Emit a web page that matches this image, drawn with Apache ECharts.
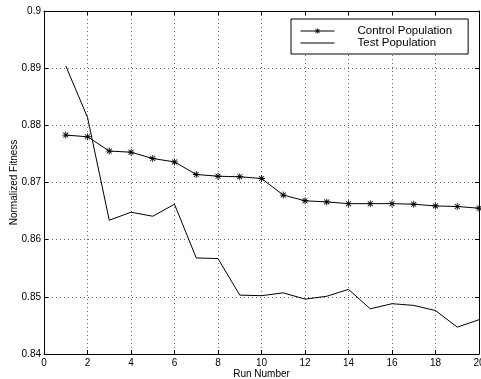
<!DOCTYPE html>
<html>
<head>
<meta charset="utf-8">
<script src="https://cdn.jsdelivr.net/npm/echarts@6/dist/echarts.min.js"></script>
<style>
html, body { margin: 0; padding: 0; background: #fff; }
#chart { width: 481px; height: 379px; }
</style>
</head>
<body>
<div id="chart"></div>
<script>
// run numbers on x
var runs = [1, 2, 3, 4, 5, 6, 7, 8, 9, 10, 11, 12, 13, 14, 15, 16, 17, 18, 19, 20];
// normalized fitness
var controlPop = [0.8783, 0.8780, 0.8755, 0.8753, 0.8742, 0.8736, 0.8714, 0.8711, 0.8710, 0.8707,
    0.8678, 0.8668, 0.8666, 0.8663, 0.8663, 0.8663, 0.8662, 0.8659, 0.8658, 0.8655];
var testPop = [0.8904, 0.8814, 0.8634, 0.8648, 0.8641, 0.8662, 0.8568, 0.8567, 0.8503, 0.8502,
    0.8507, 0.8496, 0.8501, 0.8513, 0.8479, 0.8488, 0.8485, 0.8476, 0.8447, 0.8460];
var seriesNames = ['Control Population', 'Test Population'];

var fontName = '"Liberation Sans", Arial, sans-serif';
// asterisk marker
var starPath = 'path://M-0.6,-5L0.6,-5L0.6,5L-0.6,5Z M-5,-0.6L5,-0.6L5,0.6L-5,0.6Z ' +
    'M-3.95,-3.1L-3.1,-3.95L3.95,3.1L3.1,3.95Z M3.1,-3.95L3.95,-3.1L-3.1,3.95L-3.95,3.1Z';

function pairs(ys) {
    return ys.map(function (v, i) { return [runs[i], v]; });
}

var chart = echarts.init(document.getElementById('chart'));
var gridLine = { show: true, lineStyle: { color: '#666', type: [1, 3], width: 1 } };
var axLine = { show: true, onZero: false, lineStyle: { color: '#000', width: 1 } };
var tick = { show: true, inside: true, length: 4, lineStyle: { color: '#000' } };

var option = {
    animation: false,
    backgroundColor: '#fff',
    textStyle: { fontFamily: fontName },
    grid: { left: 44, right: 2, top: 11, bottom: 25, containLabel: false, outerBoundsMode: 'none' },
    legend: {
        left: 291, top: 19,
        orient: 'vertical',
        itemWidth: 34, itemHeight: 7, itemGap: 0,
        padding: [6, 16, 5, 9],
        borderColor: '#000', borderWidth: 1, backgroundColor: '#fff',
        lineStyle: { width: 1, color: '#000' },
        textStyle: { fontSize: 11.5, lineHeight: 12, color: '#000', fontFamily: fontName, padding: [0, 0, 0, 18] },
        data: [
            { name: seriesNames[0] },
            { name: seriesNames[1], itemStyle: { color: 'rgba(0,0,0,0)', borderWidth: 0 } }
        ]
    },
    xAxis: [{
        type: 'value', min: 0, max: 20, interval: 2,
        name: 'Run Number', nameLocation: 'middle', nameGap: 15, nameMoveOverlap: false,
        nameTextStyle: { fontSize: 10, color: '#000', fontFamily: fontName },
        axisLine: axLine, axisTick: tick,
        axisLabel: { color: '#000', fontSize: 10, margin: 4, fontFamily: fontName },
        splitLine: gridLine
    }, {
        type: 'value', min: 0, max: 20, interval: 2, position: 'top',
        axisLine: axLine, axisTick: tick, axisLabel: { show: false }, splitLine: { show: false }
    }],
    yAxis: [{
        type: 'value', min: 0.84, max: 0.9, interval: 0.01,
        name: 'Normalized Fitness', nameLocation: 'middle', nameGap: 25, nameMoveOverlap: false,
        nameTextStyle: { fontSize: 10, color: '#000', fontFamily: fontName },
        axisLine: axLine, axisTick: tick,
        axisLabel: {
            color: '#000', fontSize: 10, margin: 3, fontFamily: fontName,
            formatter: function (v) { return String(parseFloat(v.toFixed(2))); }
        },
        splitLine: gridLine
    }, {
        type: 'value', min: 0.84, max: 0.9, interval: 0.01, position: 'right',
        axisLine: axLine, axisTick: tick, axisLabel: { show: false }, splitLine: { show: false }
    }],
    series: [{
        name: seriesNames[0],
        type: 'line',
        data: pairs(controlPop),
        symbol: starPath, symbolSize: 7,
        itemStyle: { color: '#000' },
        lineStyle: { color: '#000', width: 1 }
    }, {
        name: seriesNames[1],
        type: 'line',
        data: pairs(testPop),
        symbol: 'none',
        itemStyle: { color: '#000' },
        lineStyle: { color: '#000', width: 1 }
    }]
};
chart.setOption(option);
</script>
</body>
</html>
